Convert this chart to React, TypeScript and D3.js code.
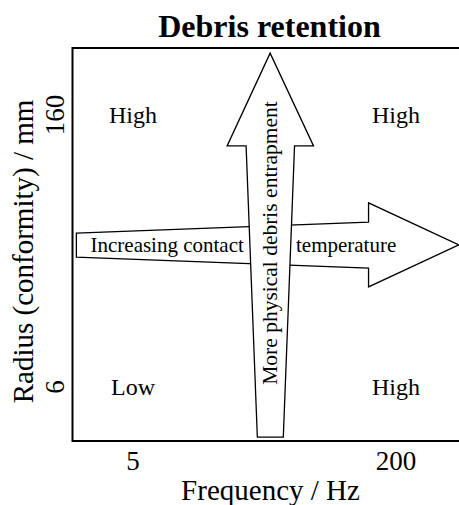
import React, { useEffect } from 'react'
import * as d3 from 'd3'

// axis categories (tick labels)
const freqTicks = ['5', '200']
const radiusTicks = ['6', '160']

// quadrant labels: [frequency, radius, label]
const quadrants: [string, string, string][] = [
  ['5', '160', 'High'],
  ['200', '160', 'High'],
  ['5', '6', 'Low'],
  ['200', '6', 'High'],
]

// arrow outlines in percent of the plot frame (0..100)
const tempArrow: [number, number][] = [
  [1.0, 52.9], [76.4, 55.7], [76.4, 60.6], [99.7, 49.9],
  [76.4, 39.2], [76.4, 44.0], [1.0, 46.8],
]
const debrisArrow: [number, number][] = [
  [47.7, 1.0], [44.8, 75.1], [39.9, 75.1], [51.0, 98.7],
  [62.2, 75.1], [57.3, 75.1], [54.4, 1.0],
]

const W = 459
const H = 505
const left = 72.5
const top = 48
const right = 460
const bottom = 441

const serif = 'Liberation Serif, Times New Roman, Times, serif'

function App() {
  useEffect(() => {
    document.body.style.margin = '0'
  }, [])

  const u = d3.scaleLinear().domain([0, 100]).range([left, right])
  const v = d3.scaleLinear().domain([0, 100]).range([bottom, top])
  const x = d3.scalePoint().domain(freqTicks).range([133, 396])
  const y = d3.scalePoint().domain(radiusTicks).range([387, 115])

  const poly = d3.line<[number, number]>()
    .x(d => u(d[0]))
    .y(d => v(d[1]))
    .curve(d3.curveLinearClosed)

  return (
    <svg width={W} height={H} style={{ display: 'block', fontFamily: serif }}>
      <style>{`text { font-family: 'Liberation Serif', 'Times New Roman', serif; }`}</style>
      <rect width={W} height={H} fill="#fff" />
      <text x={269.5} y={37} textAnchor="middle" fontSize={32} fontWeight="bold">Debris retention</text>

      {/* frame: top, left, bottom */}
      <path d={`M${right},${top}H${left}V${bottom}H${right}`} fill="none" stroke="#000" strokeWidth={2} />

      {quadrants.map(([f, r, lab], i) => (
        <text key={i} x={x(f)} y={(y(r) as number) + 8} textAnchor="middle" fontSize={24}>{lab}</text>
      ))}

      <path d={poly(tempArrow) || ''} fill="#fff" stroke="#000" strokeWidth={1.3} />
      <text x={90.5} y={252} fontSize={21}>Increasing contact</text>
      <text x={296} y={252} fontSize={21}>temperature</text>

      <path d={poly(debrisArrow) || ''} fill="#fff" stroke="#000" strokeWidth={1.3} />
      <text transform="translate(277,243) rotate(-90)" textAnchor="middle" fontSize={21.5}>More physical debris entrapment</text>

      {freqTicks.map(t => (
        <text key={t} x={x(t)} y={470} textAnchor="middle" fontSize={27}>{t}</text>
      ))}
      {radiusTicks.map(t => (
        <text key={t} transform={`translate(64,${y(t)}) rotate(-90)`} textAnchor="middle" fontSize={27}>{t}</text>
      ))}

      <text x={270.5} y={500} textAnchor="middle" fontSize={29}>Frequency / Hz</text>
      <text transform="translate(33,251.5) rotate(-90)" textAnchor="middle" fontSize={29}>Radius (conformity) / mm</text>
    </svg>
  )
}

export default App
